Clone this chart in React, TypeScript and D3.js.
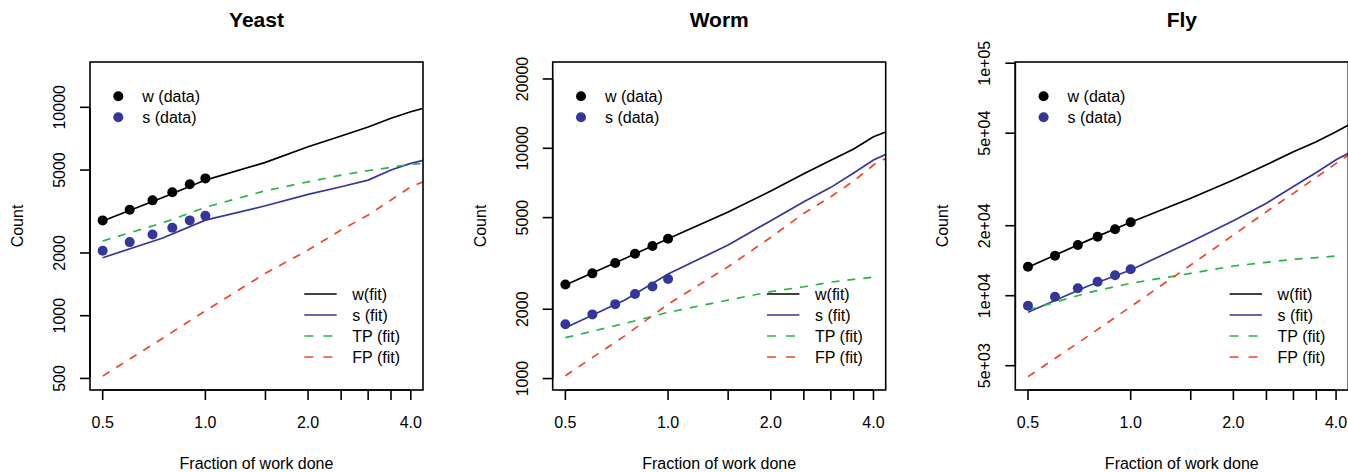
import React from 'react';
import * as d3 from 'd3';

// shared x values
const dataX = [0.5, 0.6, 0.7, 0.8, 0.9, 1.0];
const fitX = [0.5, 0.75, 1.0, 1.5, 2.0, 2.5, 3.0, 3.5, 4.0, 4.35];
const xTicks = [0.5, 1.0, 1.5, 2.0, 2.5, 3.0, 3.5, 4.0];
const xTickLabels = ['0.5', '1.0', '2.0', '4.0'];

// Yeast
const yeastWData = [2867, 3224, 3577, 3910, 4270, 4560];
const yeastSData = [2048, 2255, 2455, 2643, 2867, 3016];
const yeastWFit = [2847, 3690, 4475, 5440, 6470, 7280, 8040, 8860, 9520, 9890];
const yeastSFit = [1898, 2360, 2875, 3369, 3822, 4156, 4475, 5000, 5385, 5567];
const yeastTPFit = [2284, 2790, 3312, 3977, 4391, 4730, 4965, 5155, 5325, 5385];
const yeastFPFit = [513, 780, 1055, 1597, 2065, 2579, 3040, 3591, 4156, 4391];
const yeastTicks = [500, 1000, 2000, 5000, 10000];

// Worm
const wormWData = [2563, 2864, 3177, 3485, 3763, 4050];
const wormSData = [1720, 1900, 2105, 2328, 2513, 2706];
const wormWFit = [2550, 3330, 4050, 5290, 6523, 7757, 8870, 9930, 11230, 11770];
const wormSFit = [1663, 2200, 2843, 3801, 4847, 5861, 6766, 7810, 8894, 9415];
const wormTPFit = [1505, 1738, 1939, 2193, 2384, 2504, 2624, 2695, 2757];
const wormFPFit = [1029, 1540, 2105, 3058, 4106, 5220, 6164, 7208, 8460, 9050];
const wormTicks = [1000, 2000, 5000, 10000, 20000];

// Fly
const flyWData = [13330, 14860, 16520, 17940, 19300, 20690];
const flySData = [9057, 9903, 10760, 11490, 12240, 12990];
const flyWFit = [13250, 17300, 20690, 26230, 31450, 36580, 41610, 45950, 50730, 54220];
const flySFit = [8485, 11000, 12900, 17070, 21000, 25000, 29500, 33900, 38400, 41000];
const flyTPFit = [8680, 10300, 11310, 12480, 13420, 13920, 14340, 14570, 14810];
const flyFPFit = [4485, 6700, 8970, 13550, 18240, 22970, 27560, 32300, 37090, 40300];
const flyTicks = [5000, 10000, 20000, 50000, 100000];
const flyTickLabels = ['5e+03', '1e+04', '2e+04', '5e+04', '1e+05'];

const BLACK = '#000000';
const BLUE = '#35359a';
const GREEN = '#2db34a';
const RED = '#f0452d';
const FONT = '"Liberation Sans", Arial, Helvetica, sans-serif';

const panels = [
  { title: 'Yeast', wData: yeastWData, sData: yeastSData, wFit: yeastWFit, sFit: yeastSFit, tp: yeastTPFit, fp: yeastFPFit, ticks: yeastTicks, labels: yeastTicks.map(String), yDomain: [440, 16500] },
  { title: 'Worm', wData: wormWData, sData: wormSData, wFit: wormWFit, sFit: wormSFit, tp: wormTPFit, fp: wormFPFit, ticks: wormTicks, labels: wormTicks.map(String), yDomain: [892, 23700] },
  { title: 'Fly', wData: flyWData, sData: flySData, wFit: flyWFit, sFit: flySFit, tp: flyTPFit, fp: flyFPFit, ticks: flyTicks, labels: flyTickLabels, yDomain: [3930, 101200] },
];

const W = 1348, H = 472;
const boxW = 333, boxH = 328, top = 62;
const lefts = [90, 552.7, 1015.3];

function Panel({ p, left, idx }: any) {
  const x = d3.scaleLog().domain([0.459, 4.344]).range([left, left + boxW]);
  const y = d3.scaleLog().domain(p.yDomain).range([top + boxH, top]);
  const line = d3.line<[number, number]>().x(d => x(d[0])).y(d => y(d[1]));
  const pts = (vals: number[]) => vals.map((v, i) => [fitX[i], v] as [number, number]);
  const clipId = 'clip' + idx;
  const bottom = top + boxH;
  const fits = [
    { vals: p.wFit, color: BLACK, dash: null },
    { vals: p.sFit, color: BLUE, dash: null },
    { vals: p.tp, color: GREEN, dash: '8,8' },
    { vals: p.fp, color: RED, dash: '8,8' },
  ];
  const legend2 = [
    { label: 'w(fit)', color: BLACK, dash: null },
    { label: 's (fit)', color: BLUE, dash: null },
    { label: 'TP (fit)', color: GREEN, dash: '9,10' },
    { label: 'FP (fit)', color: RED, dash: '9,10' },
  ];
  return (
    <g fontFamily={FONT}>
      <defs>
        <clipPath id={clipId}>
          <rect x={left} y={top} width={boxW} height={boxH} />
        </clipPath>
      </defs>
      <text x={left + boxW / 2} y={27} textAnchor="middle" fontWeight="bold" fontSize={21}>{p.title}</text>
      <g clipPath={`url(#${clipId})`}>
        {fits.map((f, i) => (
          <path key={i} d={line(pts(f.vals)) || ''} fill="none" stroke={f.color}
            strokeWidth={1.7} strokeDasharray={f.dash || undefined} />
        ))}
        {p.wData.map((v: number, i: number) => (
          <circle key={'w' + i} cx={x(dataX[i])} cy={y(v)} r={5} fill={BLACK} />
        ))}
        {p.sData.map((v: number, i: number) => (
          <circle key={'s' + i} cx={x(dataX[i])} cy={y(v)} r={5} fill={BLUE} />
        ))}
      </g>
      <rect x={left} y={top} width={boxW} height={boxH} fill="none" stroke="#000" strokeWidth={1.6} />
      {/* x axis */}
      <line x1={x(xTicks[0])} x2={x(xTicks[xTicks.length - 1])} y1={bottom} y2={bottom} stroke="#000" strokeWidth={1.6} />
      {xTicks.map(t => (
        <line key={'xt' + t} x1={x(t)} x2={x(t)} y1={bottom} y2={bottom + 10} stroke="#000" strokeWidth={1.6} />
      ))}
      {[0.5, 1, 2, 4].map((t, i) => (
        <text key={'xl' + t} x={x(t)} y={428} textAnchor="middle" fontSize={16}>{xTickLabels[i]}</text>
      ))}
      <text x={left + boxW / 2} y={469} textAnchor="middle" fontSize={16}>Fraction of work done</text>
      {/* y axis */}
      <line x1={left} x2={left} y1={y(p.ticks[0])} y2={y(p.ticks[p.ticks.length - 1])} stroke="#000" strokeWidth={1.6} />
      {p.ticks.map((t: number, i: number) => (
        <g key={'yt' + t}>
          <line x1={left - 10} x2={left} y1={y(t)} y2={y(t)} stroke="#000" strokeWidth={1.6} />
          <text transform={`translate(${left - 25},${y(t)}) rotate(-90)`} textAnchor="middle" fontSize={16}>{p.labels[i]}</text>
        </g>
      ))}
      <text transform={`translate(${left - 67},${top + boxH / 2}) rotate(-90)`} textAnchor="middle" fontSize={16}>Count</text>
      {/* legend: data */}
      <circle cx={left + 28.3} cy={96.3} r={5} fill={BLACK} />
      <circle cx={left + 28.3} cy={117.3} r={5} fill={BLUE} />
      <text x={left + 52.3} y={96.3} dy="0.35em" fontSize={16}>w (data)</text>
      <text x={left + 52.3} y={117.3} dy="0.35em" fontSize={16}>s (data)</text>
      {/* legend: fits */}
      {legend2.map((l, i) => (
        <g key={'lg' + i}>
          <line x1={left + 214.3} x2={left + 246.7} y1={294 + i * 21} y2={294 + i * 21}
            stroke={l.color} strokeWidth={1.7} strokeDasharray={l.dash || undefined} />
          <text x={left + 262.3} y={294 + i * 21} dy="0.35em" fontSize={16}>{l.label}</text>
        </g>
      ))}
    </g>
  );
}

export default function App() {
  return (
    <svg width={W} height={H} style={{ position: 'absolute', left: 0, top: 0, background: '#fff' }}>
      {panels.map((p, i) => (
        <Panel key={p.title} p={p} left={lefts[i]} idx={i} />
      ))}
    </svg>
  );
}
